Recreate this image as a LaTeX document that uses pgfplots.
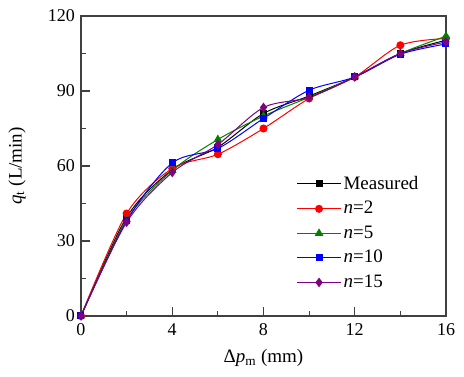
\documentclass[border=0pt]{standalone}
\usepackage{fontspec}
\setmainfont{Liberation Serif}
\usepackage{pgfplots}
\pgfplotsset{compat=1.18}
\definecolor{mgreen}{RGB}{0,128,0}
\definecolor{mpurple}{RGB}{128,0,128}
\begin{document}
\fontsize{18}{21}\selectfont
\begin{tikzpicture}
\useasboundingbox (-81pt,-61pt) rectangle (383pt,316pt);
\begin{axis}[
  at={(0,0)}, anchor=south west,
  scale only axis, width=365pt, height=300pt,
  xmin=0, xmax=16, ymin=0, ymax=120,
  xtick={0,4,8,12,16}, ytick={0,30,60,90,120},
  xticklabels={0,4,8,12,16}, yticklabels={0,30,60,90,120},
  minor xtick={2,6,10,14}, minor ytick={15,45,75,105},
  tick align=inside, xtick pos=bottom, ytick pos=left,
  major tick length=9pt, minor tick length=5pt,
  axis line style={line width=1.3pt, black!75},
  every tick/.style={line width=1.1pt, black!75},
  tick label style={font=\fontsize{18}{21}\selectfont},
  xticklabel style={yshift=-1pt},
  label style={font=\fontsize{19}{22}\selectfont},
  xlabel={Δ\textit{p}\textsubscript{m} (mm)},
  ylabel={\textit{q}\textsubscript{t} (L/min)},
  xlabel style={yshift=-2pt},
  ylabel style={yshift=10pt},
  legend style={draw=none, fill=none, at={(0.59,0.474)}, anchor=north west,
    font=\fontsize{19}{22}\selectfont, row sep=5.3pt, inner sep=0pt},
  legend cell align=left,
  legend image code/.code={\draw[mark repeat=2,mark phase=2] plot coordinates {(0pt,0pt)(22pt,0pt)(44pt,0pt)};},
  every axis plot/.append style={line width=1pt, smooth},
]
\addplot[black, mark=square*, mark size=3pt] coordinates {(0,0)(2,39.5)(4,58.5)(6,67.5)(8,81)(10,88)(12,95.6)(14,105)(16,110.3)};
\addlegendentry{Measured}
\addplot[red, mark=*, mark size=3.5pt] coordinates {(0,0)(2,41)(4,59)(6,64.7)(8,75)(10,87)(12,95.6)(14,108.3)(16,111)};
\addlegendentry{\textit{n}=2}
\addplot[mgreen, mark=triangle*, mark size=4pt] coordinates {(0,0)(2,38.5)(4,58.2)(6,70.6)(8,80)(10,87.5)(12,95.6)(14,105)(16,111.9)};
\addlegendentry{\textit{n}=5}
\addplot[blue, mark=square*, mark size=3pt] coordinates {(0,0)(2,38)(4,61.2)(6,67)(8,79)(10,90.3)(12,95.6)(14,104.7)(16,108.8)};
\addlegendentry{\textit{n}=10}
\addplot[mpurple, mark=diamond*, mark size=4pt] coordinates {(0,0)(2,37.5)(4,57.4)(6,68.6)(8,83.4)(10,87.4)(12,95.6)(14,105)(16,109.6)};
\addlegendentry{\textit{n}=15}
\end{axis}
\end{tikzpicture}
\end{document}
